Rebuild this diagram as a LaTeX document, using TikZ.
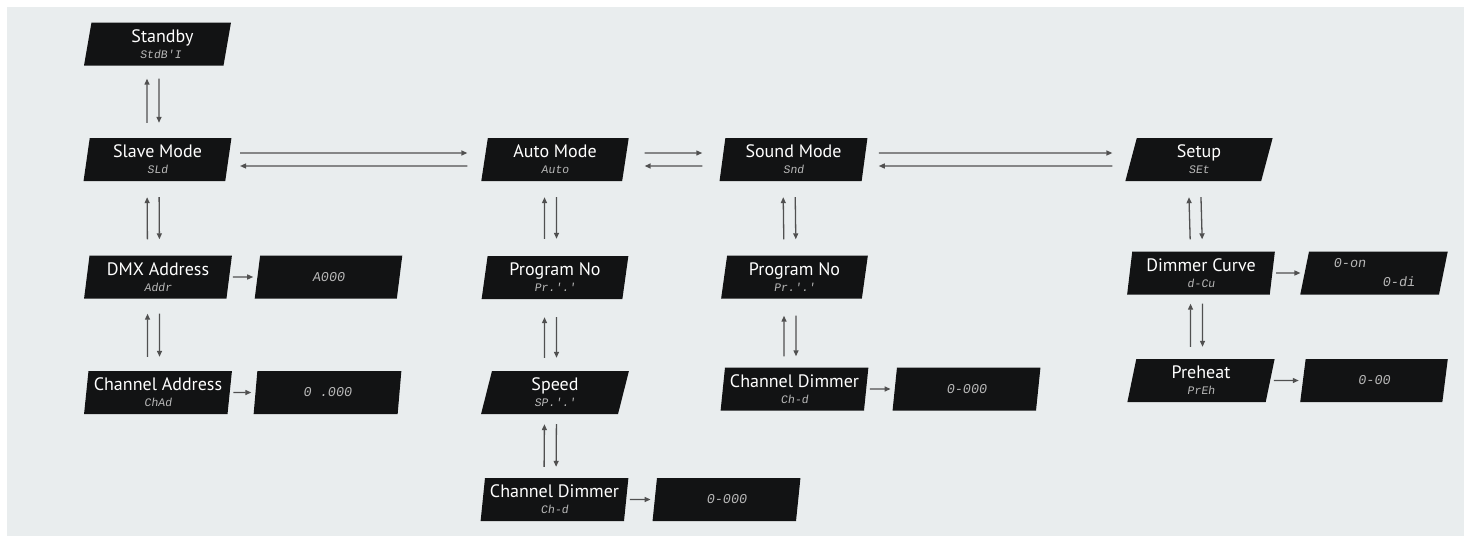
\documentclass[tikz,border=0pt]{standalone}
\usepackage{fontspec}
\setmainfont{PT Sans}
\newfontfamily\segfont[FakeSlant=0.15]{Liberation Mono}
\usetikzlibrary{shapes.geometric,arrows.meta}
\definecolor{bgc}{HTML}{E9EDEE}
\definecolor{boxc}{HTML}{121314}
\definecolor{segc}{HTML}{B8B8B8}
\definecolor{arrc}{HTML}{505050}
\newcommand\bx[2]{#1\\{\segfont\fontsize{11.5}{16}\selectfont\color{segc}#2}}
\newcommand\updn[4]{%
  \draw[arr, shorten <=#4pt, shorten >=#3pt] ([xshift=-10.5pt]#2.north) -- ([xshift=-10.5pt]#1.south);
  \draw[arr, shorten <=#3pt, shorten >=#4pt] ([xshift=1.5pt]#1.south) -- ([xshift=1.5pt]#2.north);}
\newcommand\lrpair[4]{%
  \draw[arr, shorten <=#3pt, shorten >=#4pt] ([yshift=6.5pt]#1.east) -- ([yshift=6.5pt]#2.west);
  \draw[arr, shorten <=#4pt, shorten >=#3pt] ([yshift=-6.5pt]#2.west) -- ([yshift=-6.5pt]#1.east);}
\newcommand\side[2]{\draw[arr, shorten <=3.5pt, shorten >=4pt] (#1.east) -- (#2.west);}
\begin{document}
\begin{tikzpicture}[x=1pt,y=-1pt,
  box/.style={trapezium, trapezium left angle=82, trapezium right angle=98,
    trapezium stretches=true, minimum width=148pt, minimum height=43pt,
    inner sep=0pt, fill=boxc, text=white, align=center,
    font=\fontsize{18}{16}\selectfont},
  valbox/.style={box, text=segc, font=\segfont\fontsize{13.5}{20}\selectfont},
  arr/.style={draw=arrc, line width=1.3pt, -{Triangle[length=6pt,width=5pt]}},
]
\fill[white] (0,0) rectangle (1464,536);
\fill[bgc] (7,7) rectangle (1464,536);
\useasboundingbox (0,0) rectangle (1464,536);

% column 1
\node[box] (standby) at (157.5,44) {\bx{\hspace*{10pt}Standby}{\hspace*{6pt}StdB'I}};
\node[box] (slave) at (157.5,159.5) {\bx{Slave Mode}{SLd}};
\node[box] (dmx) at (158,277) {\bx{DMX Address}{Addr}};
\node[box] (chad) at (158,392.5) {\bx{Channel Address}{ChAd}};
\node[valbox] (dmxval) at (328.5,277) {A000};
\node[valbox] (chadval) at (327.5,392.5) {0 .000};

% column 2
\node[box] (auto) at (555,159.5) {\bx{Auto Mode}{Auto}};
\node[box] (pn1) at (555,277.5) {\bx{Program No}{Pr.'.'}};
\node[box] (speed) at (555,392.5) {\bx{Speed}{SP.'.'}};
\node[box] (chd1) at (554.5,499.5) {\bx{Channel Dimmer}{Ch-d}};
\node[valbox] (chd1val) at (726.5,499.5) {0-000};

% column 3
\node[box] (sound) at (793.5,159.5) {\bx{Sound Mode}{Snd}};
\node[box] (pn2) at (794.5,277) {\bx{Program No}{Pr.'.'}};
\node[box] (chd2) at (794.5,389) {\bx{Channel Dimmer}{Ch-d}};
\node[valbox] (chd2val) at (966.5,389) {0-000};

% column 4
\node[box] (setup) at (1199,159.5) {\bx{Setup}{SEt}};
\node[box] (dc) at (1201,273) {\bx{Dimmer Curve}{d-Cu}};
\node[box] (preheat) at (1201,380.5) {\bx{Preheat}{PrEh}};
\node[valbox] (dcval) at (1374,273) {\begin{tabular}{@{}l@{}}0-on\\[-1pt]\hspace{49pt}0-di\end{tabular}};
\node[valbox] (preval) at (1374,380.5) {0-00};

% connectors
\updn{standby}{slave}{13}{15}
\updn{slave}{dmx}{16}{16}
\updn{dmx}{chad}{15}{14}
\updn{auto}{pn1}{16}{17}
\updn{pn1}{speed}{18}{13}
\updn{speed}{chd1}{10}{11}
\updn{sound}{pn2}{16}{16}
\updn{pn2}{chd2}{17}{11}
\updn{setup}{dc}{16}{12}
\updn{dc}{preheat}{9}{12}

\lrpair{slave}{auto}{11.5}{17}
\lrpair{auto}{sound}{19}{20}
\lrpair{sound}{setup}{14}{18.5}

\side{dmx}{dmxval}
\side{chad}{chadval}
\side{chd1}{chd1val}
\side{chd2}{chd2val}
\side{dc}{dcval}
\side{preheat}{preval}
\end{tikzpicture}
\end{document}
